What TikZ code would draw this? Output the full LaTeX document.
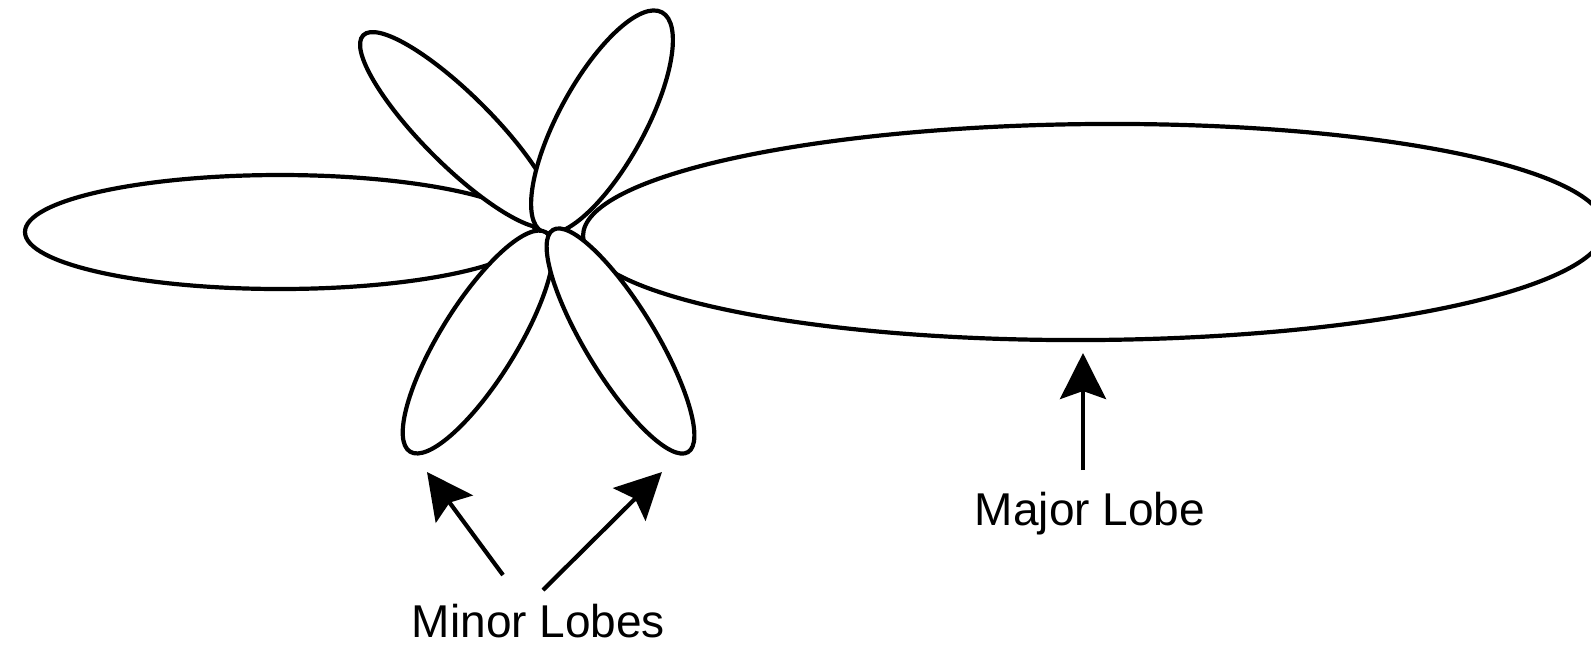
\documentclass[tikz,border=0pt]{standalone}
\usepackage{fontspec}
\setmainfont{Liberation Sans}
\usetikzlibrary{arrows.meta}
\begin{document}
\begin{tikzpicture}[x=0.5pt,y=-0.5pt,
  lobe/.style={draw=black, fill=white, line width=2.1pt},
  pointer/.style={draw=black, line width=2.1pt, -{Stealth[length=23pt,width=23pt,inset=4pt]}},
  lbl/.style={font=\fontsize{23}{27}\selectfont, anchor=base, inner sep=0pt}]
\useasboundingbox (0,0) rectangle (1591,645);
\clip (0,0) rectangle (1591,645);
% lobes
\draw[lobe] (280,232) ellipse [x radius=255, y radius=57];
\draw[lobe, shift={(1094,232)}, rotate=0.45] (0,0) ellipse [x radius=511, y radius=108];
\draw[lobe, shift={(458,130)}, rotate=-45] (0,0) ellipse [x radius=134, y radius=35];
\draw[lobe, shift={(602,122)}, rotate=61.3] (0,0) ellipse [x radius=125, y radius=43];
\draw[lobe, shift={(478,342)}, rotate=58.2] (0,0) ellipse [x radius=129, y radius=38];
\draw[lobe, shift={(620.5,341)}, rotate=-58.7] (0,0) ellipse [x radius=130, y radius=35];
% labels
\node[lbl] (minor) at (538.5,637) {Minor Lobes};
\node[lbl] (major) at (1090,525) {Major Lobe};
% arrow ends
\coordinate (mlTail) at (503,575);
\coordinate (mlTip) at (427,472);
\coordinate (mrTail) at (543,590);
\coordinate (mrTip) at (662,472);
\coordinate (MjTail) at (1083,470);
\coordinate (MjTip) at (1083,353);
\draw[pointer] (mlTail) -- (mlTip);
\draw[pointer] (mrTail) -- (mrTip);
\draw[pointer] (MjTail) -- (MjTip);
\end{tikzpicture}
\end{document}
